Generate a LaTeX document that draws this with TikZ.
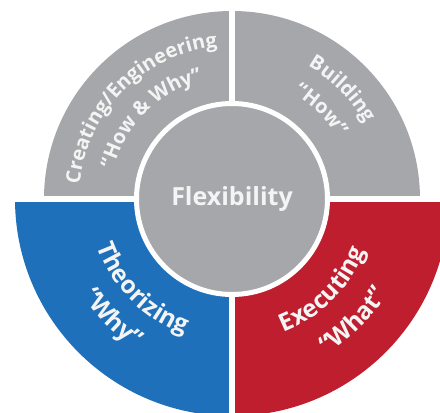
\documentclass[tikz,border=0pt]{standalone}
\usepackage{fontspec}
\setmainfont{Open Sans}
\usepackage{tikz}
\usetikzlibrary{decorations.text}
\definecolor{wheelgray}{HTML}{A6A7AA}
\definecolor{wheelblue}{HTML}{1F70BA}
\definecolor{wheelred}{HTML}{BE1E2D}
\definecolor{wheeltext}{HTML}{F4F4F4}
\newcommand\rimfont{\fontsize{20}{20}\selectfont\bfseries}
\newcommand\rimbold{\fontsize{24.5}{24.5}\selectfont\bfseries}

\begin{document}
\begin{tikzpicture}[x=1pt,y=1pt,
  hub/.style={circle,fill=wheelgray,draw=white,line width=5,minimum size=191pt,
    inner sep=0pt,text=wheeltext,font=\fontsize{25}{25}\selectfont\bfseries},
  curved/.style={decorate,decoration={text along path,text align=center,
    text color=wheeltext,text={#1}}}]
\path[use as bounding box] (-232,-214) rectangle (208,199);
\clip (-232,-214) rectangle (208,199);

% four quarters of the wheel
\foreach \a/\r/\c in {0/188/wheelgray,90/188/wheelgray,180/217/wheelblue,270/217/wheelred}
  \fill[\c] (0,0) -- (\a:\r) arc[start angle=\a,end angle=\a+90,radius=\r] -- cycle;
\draw[white,line width=6] (-232,0) -- (208,0);
\draw[white,line width=6] (0,199) -- (0,-214);

% centre
\node[hub] (flex) at (0,0) {Flexibility};

% labels on the gray quarters
\path[curved={|\rimfont|Creating/Engineering}] (195:153) arc[start angle=195,end angle=75,radius=153];
\path[curved={|\rimfont|“How {\&} Why”}] (195:122) arc[start angle=195,end angle=75,radius=122];
\path[curved={|\rimfont|Building}] (105:153) arc[start angle=105,end angle=-15,radius=153];
\path[curved={|\rimfont|“How”}] (105:122) arc[start angle=105,end angle=-15,radius=122];

% labels on the coloured quarters
\path[curved={|\rimbold|Theorizing}] (165:143) arc[start angle=165,end angle=285,radius=143];
\path[curved={|\rimbold|“Why”}] (165:178) arc[start angle=165,end angle=285,radius=178];
\path[curved={|\rimbold|Executing}] (255:143) arc[start angle=255,end angle=375,radius=143];
\path[curved={|\rimbold|“What”}] (255:182) arc[start angle=255,end angle=375,radius=182];
\end{tikzpicture}
\end{document}
